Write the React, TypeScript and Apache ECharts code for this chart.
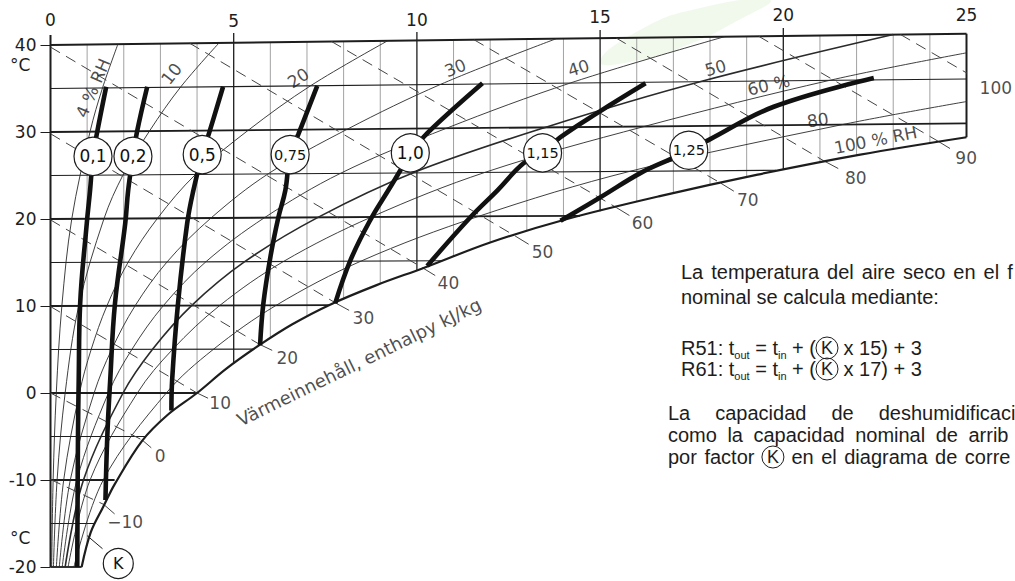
import React, { useEffect, useRef } from "react";
import * as echarts from "echarts";

// ---------------- data ----------------
const X_TICKS = [0, 5, 10, 15, 20, 25];
const Y_TICKS = [-20, -10, 0, 10, 20, 30, 40];

// chart outline (x: g/kg, y: °C)
const TOP_BORDER = [[0, 40], [25, 41.3]];
const SATURATION = [
  [0.85, -20], [1.1, -16], [1.45, -13], [1.75, -10.5], [2.5, -5.5], [3.2, -2.5], [4.0, 0],
  [4.8, 2.8], [5.7, 5.5], [6.6, 7.9], [7.6, 10.1], [8.9, 12.4], [10.2, 14.4], [12.0, 17.3],
  [14.1, 20], [16.6, 22.6], [19.3, 25.1], [22.1, 27.4], [25, 29.4],
];

// thin vertical grid lines (moisture content)
const GRID_X = [1, 2, 3, 4, 6, 7, 8, 9, 11, 12, 13, 14, 16, 17, 18, 19, 21, 22, 23, 24];
const GRID_X_BOTTOM = [-17.6, -8.8, -3.4, 0, 6.3, 8.8, 10.8, 12.55, 15.7, 17.3, 18.6, 19.9, 22.0, 23.0, 23.9, 24.8, 26.5, 27.3, 28.0, 28.7];
const GRID_X_TOP = [40.05, 40.1, 40.16, 40.21, 40.31, 40.36, 40.42, 40.47, 40.57, 40.62, 40.68, 40.73, 40.83, 40.88, 40.94, 40.99, 41.09, 41.14, 41.2, 41.25];
// major vertical lines (with tick above the top border)
const MAJOR_X = [0, 5, 10, 15, 20, 25];
const MAJOR_X_BOTTOM = [-20, 3.4, 14.1, 20.9, 25.7, 29.4];
const MAJOR_X_TOP = [41.15, 41.38, 41.5, 41.72, 41.95, 41.3];

// isotherms
const ISO_T = [-20, -15, -10, -5, 0, 5, 10, 15, 20, 25, 30, 35];
const ISO_END = [
  [0.85, -20], [1.2, -15], [1.75, -10], [2.6, -5], [4.0, 0], [5.55, 5.04], [7.6, 10.1],
  [10.7, 15.2], [14.45, 20.37], [19.8, 25.6], [25, 30.98], [25, 36.1],
];

// relative humidity curves
const RH_04 = [[0.032, -20], [0.072, -10], [0.158, 0], [0.31, 10], [0.58, 20], [1.08, 30.04], [1.42, 35.07], [1.84, 40.1]];
const RH_10 = [[0.08, -20], [0.18, -10], [0.4, 0], [0.77, 10], [1.46, 20.04], [1.98, 25.06], [2.7, 30.1], [3.55, 35.16], [4.6, 40.24]];
const RH_20 = [[0.16, -20], [0.36, -10], [0.79, 0], [1.11, 5], [1.54, 10.02], [2.12, 15.04], [2.92, 20.08], [3.96, 25.13], [5.4, 30.21], [7.1, 35.32], [9.2, 40.48]];
const RH_30 = [[0.24, -20], [0.54, -10], [1.19, 0], [1.67, 5], [2.31, 10.03], [3.18, 15.06], [4.38, 20.11], [5.94, 25.19], [8.1, 30.32], [10.65, 35.48], [13.8, 40.72]];
const RH_40 = [[0.32, -20], [0.72, -10], [1.58, 0], [2.22, 5], [3.08, 10.04], [4.24, 15.08], [5.84, 20.15], [7.92, 25.26], [10.8, 30.42], [14.2, 35.65], [18.4, 40.96]];
const RH_50 = [[0.4, -20], [0.9, -10], [1.98, 0], [2.78, 5], [3.85, 10.05], [5.3, 15.1], [7.3, 20.19], [9.9, 25.32], [13.5, 30.53], [17.75, 35.81], [23, 41.2]];
const RH_60 = [[0.48, -20], [1.08, -10], [2.37, 0], [3.33, 5], [4.62, 10.06], [6.36, 15.12], [8.76, 20.23], [11.88, 25.39], [16.2, 30.63], [21.3, 35.97], [25, 39.1]];
const RH_80 = [[0.64, -20], [1.44, -10], [3.16, 0], [4.44, 5], [6.16, 10.08], [8.48, 15.17], [11.68, 20.3], [15.84, 25.51], [21.6, 30.84], [25, 33.5]];
const RH_CURVES = [RH_04, RH_10, RH_20, RH_30, RH_40, RH_50, RH_60, RH_80];
const RH_LABELS = ["4 % RH", "10", "20", "30", "40", "50", "60 %", "80", "100 % RH"];
const RH_LABEL_AT = [[1.16, 35.06], [3.3, 36.7], [6.76, 36.2], [11.05, 37.36], [14.41, 37.36], [18.15, 37.36], [19.6, 35.4], [20.94, 31.38], [22.52, 29.08]];

// enthalpy lines (kJ/kg)
const H_VALUES = [-10, 0, 10, 20, 30, 40, 50, 60, 70, 80, 90, 100];
const H_START = [[0, -9.94], [0, 0], [0, 9.94], [0, 19.9], [0, 29.8], [0, 39.76], [3.8, 40.2], [7.67, 40.4], [11.56, 40.6], [15.44, 40.8], [19.33, 41.0], [23.2, 41.2]];
const H_END = [[1.45, -12.8], [2.5, -5.4], [4.0, 0], [5.7, 5.6], [7.8, 10.3], [10.15, 14.4], [12.7, 18.0], [15.45, 21.3], [18.3, 24.1], [21.1, 26.7], [24.2, 29.0], [25, 36.8]];
const H_LEADER = [[1.75, -13.9], [2.75, -6.3], [4.3, -0.6], [6.05, 4.9], [8.15, 9.5], [10.5, 13.5], [13.05, 17.1], [15.8, 20.4], [18.65, 23.2], [21.5, 25.8], [24.55, 28.1], [25.35, 36.1]];
const H_LABEL_AT = [[2.04, -14.8], [2.99, -7.2], [4.63, -1.15], [6.46, 4.0], [8.54, 8.6], [10.86, 12.6], [13.43, 16.2], [16.16, 19.5], [19.03, 22.2], [21.98, 24.7], [24.99, 27.0], [25.8, 35.1]];
const H_TITLE = "Värmeinnehåll, enthalpy kJ/kg";
const H_TITLE_AT = [8.42, 3.56];

// correction factor K curves
const K_01 = [[0.73, -20], [0.75, -5], [0.77, 1.5], [0.81, 10.3], [0.99, 19.5], [1.08, 23.3], [1.16, 27.2], [1.27, 29.9], [1.52, 35.2]];
const K_02 = [[1.5, -12.3], [1.55, -5], [1.63, 1.5], [1.76, 10.3], [2.04, 19.5], [2.12, 23.3], [2.25, 27.2], [2.36, 30], [2.64, 35.2]];
const K_05 = [[3.3, -2], [3.32, 1.5], [3.48, 10.3], [3.73, 19.5], [3.9, 23.3], [4.14, 27.4], [4.33, 29.9], [4.71, 35.2]];
const K_075 = [[5.72, 5.5], [5.81, 10.3], [6.0, 15.6], [6.22, 20.2], [6.41, 23.3], [6.54, 27.4], [6.76, 29.7], [7.28, 35.3]];
const K_10 = [[7.77, 10.3], [8.19, 15.3], [8.73, 19.9], [9.22, 23.3], [9.55, 25.6], [9.82, 27.6], [10.29, 29.9], [11.79, 35.6]];
const K_115 = [[10.28, 14.6], [11.46, 20.2], [12.2, 23.3], [12.91, 26.4], [13.43, 27.6], [13.92, 29.4], [14.93, 32.2], [16.24, 35.6]];
const K_125 = [[13.92, 19.8], [15.01, 22.5], [16.11, 25.3], [16.98, 27], [17.42, 27.9], [17.97, 29.1], [19.74, 32.9], [22.47, 36.2]];
const K_CURVES = [K_01, K_02, K_05, K_075, K_10, K_115, K_125];
const K_NAMES = ["0,1", "0,2", "0,5", "0,75", "1,0", "1,15", "1,25"];
const K_CIRCLE_AT = [[1.16, 27.2], [2.25, 27.2], [4.14, 27.4], [6.54, 27.4], [9.82, 27.6], [13.43, 27.6], [17.42, 27.9]];
const K_MARK_AT = [1.85, -19.6];
const K_MARK_LEADER = [[1.42, -17.9], [1.0, -16.4]];

// notes
const NOTE_1 = ["La", "temperatura", "del", "aire", "seco", "en", "el", "f"];
const NOTE_2 = "nominal se calcula mediante:";
const NOTE_R51 = "R51: t{s|out} = t{s|in} + ({k|K} x 15) + 3";
const NOTE_R61 = "R61: t{s|out} = t{s|in} + ({k|K} x 17) + 3";
const NOTE_3 = ["La", "capacidad", "de", "deshumidificaci"];
const NOTE_4 = ["como", "la", "capacidad", "nominal", "de", "arrib"];
const NOTE_5 = ["por", "factor", "{k|K}", "en", "el", "diagrama", "de", "corre"];

// ---------------- styles ----------------
const INK = "#1d1d1d";
const NUM_FONT = '"DejaVu Sans", "Liberation Sans", sans-serif';
const TXT_FONT = '"Liberation Sans", Arial, sans-serif';
const X_LABEL_LIFT = [1, 0, 1, 4, 6, 6];
const RH_LABEL_ROT = [67, 52, 33, 22, 17, 15, 13, 9, 11];

function buildOption() {
  const series: any[] = [];
  const addLine = (data: number[][], width: number, color = INK, type: any = "solid", z = 2, smooth: any = false) => {
    series.push({
      type: "line", data, symbol: "none", showSymbol: false, silent: true, clip: false, z, smooth,
      lineStyle: { width, color, type, cap: "butt" }, emphasis: { disabled: true },
    });
  };

  GRID_X.forEach((x, i) => addLine([[x, GRID_X_BOTTOM[i]], [x, GRID_X_TOP[i]]], 0.8, "#8a8a8a"));
  MAJOR_X.forEach((x, i) => addLine([[x, MAJOR_X_BOTTOM[i]], [x, MAJOR_X_TOP[i]]], x === 0 || x === 25 ? 2 : 1.3));
  ISO_T.forEach((t, i) => addLine([[0, t], ISO_END[i]], t % 10 === 0 ? 1.8 : 1.1));
  addLine(TOP_BORDER, 2);
  RH_CURVES.forEach((c, i) => addLine(c, i === 5 ? 1.6 : 0.9, "#2a2a2a", "solid", 2, 0.35));
  H_VALUES.forEach((h, i) => {
    addLine([H_START[i], H_END[i]], 1, "#444", [11, 7]);
    addLine([H_END[i], H_LEADER[i]], 1, "#444");
  });
  addLine(SATURATION, 2.2, INK, "solid", 3, 0.35);
  K_CURVES.forEach((c) => addLine(c, 4.6, "#111", "solid", 4, 0.4));
  addLine(K_MARK_LEADER, 1);

  // K circles
  series.push({
    type: "scatter", silent: true, clip: false, z: 6, symbol: "circle", symbolSize: 38,
    itemStyle: { color: "#fff", borderColor: INK, borderWidth: 1.2, opacity: 1 },
    label: { show: true, position: "inside", color: "#111", fontFamily: NUM_FONT, fontSize: 17 },
    data: K_NAMES.map((n, i) => ({
      value: K_CIRCLE_AT[i], name: n,
      label: { formatter: n, fontSize: n.length > 3 ? 14.5 : 17 },
    })).concat([{
      value: K_MARK_AT, name: "K", symbolSize: 30,
      label: { formatter: "K", fontSize: 16 },
    } as any]),
  });

  // text labels in data space
  const texts: any[] = [];
  RH_LABELS.forEach((t, i) => texts.push({ value: RH_LABEL_AT[i], label: { formatter: t, rotate: RH_LABEL_ROT[i] } }));
  H_VALUES.forEach((h, i) => texts.push({ value: H_LABEL_AT[i], label: { formatter: h < 0 ? "\u2212" + Math.abs(h) : String(h) } }));
  texts.push({ value: H_TITLE_AT, label: { formatter: H_TITLE, rotate: 26, fontSize: 18 } });
  series.push({
    type: "scatter", silent: true, clip: false, z: 7, symbolSize: 1,
    itemStyle: { color: "rgba(0,0,0,0)" },
    label: { show: true, position: "inside", color: INK, fontFamily: NUM_FONT, fontSize: 17 },
    data: texts,
  });

  const xRich: any = {};
  X_TICKS.forEach((v, i) => {
    xRich["l" + v] = { fontSize: 17, fontFamily: NUM_FONT, color: INK, padding: [0, 0, X_LABEL_LIFT[i], 0] };
  });

  const txt = { fontSize: 20, fontFamily: TXT_FONT, fill: INK };
  const rich = {
    s: { fontSize: 11, fontFamily: TXT_FONT, color: INK, verticalAlign: "bottom" },
    k: { fontSize: 18, fontFamily: TXT_FONT, color: INK, borderColor: INK, borderWidth: 1, borderRadius: 11, width: 16, height: 16, padding: [3, 3, 3, 3], align: "center" },
    sp: { width: 8 },
    sp2: { width: 25 },
    sp4: { width: 10.5 },
    sp5: { width: 7.5 },
  };
  const graphic: any[] = [
    {
      type: "polygon", silent: true, z: -10,
      shape: { points: [[600, 62], [640, 30], [700, 8], [770, 0], [735, 22], [690, 44], [640, 60]], smooth: 0.5 },
      style: { fill: "rgba(150, 205, 110, 0.13)" },
    },
    { type: "text", x: 10, y: 65, style: { text: "°C", fontSize: 17, fontFamily: NUM_FONT, fill: INK, verticalAlign: "middle" } },
    { type: "text", x: 10, y: 538, style: { text: "°C", fontSize: 17, fontFamily: NUM_FONT, fill: INK, verticalAlign: "middle" } },
    { type: "text", x: 681, y: 272, style: { ...txt, text: NOTE_1.join("{sp| }"), rich, verticalAlign: "middle" } },
    { type: "text", x: 681, y: 297, style: { ...txt, text: NOTE_2, verticalAlign: "middle" } },
    { type: "text", x: 681, y: 348, style: { ...txt, text: NOTE_R51, rich, lineHeight: 24, verticalAlign: "middle" } },
    { type: "text", x: 681, y: 369, style: { ...txt, text: NOTE_R61, rich, lineHeight: 24, verticalAlign: "middle" } },
    { type: "text", x: 668, y: 413, style: { ...txt, text: NOTE_3.join("{sp2| }"), rich, verticalAlign: "middle" } },
    { type: "text", x: 668, y: 435, style: { ...txt, text: NOTE_4.join("{sp4| }"), rich, verticalAlign: "middle" } },
    { type: "text", x: 668, y: 457, style: { ...txt, text: NOTE_5.join("{sp5| }"), rich, verticalAlign: "middle" } },
  ];

  return {
    animation: false,
    backgroundColor: "#ffffff",
    grid: { left: 50.5, right: 48.5, top: 27.6, bottom: 14, containLabel: false },
    xAxis: {
      type: "value", min: 0, max: 25, interval: 5, position: "top",
      axisLine: { show: false }, axisTick: { show: false }, splitLine: { show: false },
      axisLabel: { margin: -2, formatter: (v: number) => `{l${v}|${v}}`, rich: xRich, fontSize: 17, fontFamily: NUM_FONT, color: INK },
    },
    yAxis: {
      type: "value", min: -20, max: 42, interval: 10,
      axisLine: { show: false }, splitLine: { show: false },
      axisTick: { show: true, length: 10, customValues: Y_TICKS, lineStyle: { color: INK, width: 1 } },
      axisLabel: { margin: 14, customValues: Y_TICKS, fontSize: 17, fontFamily: NUM_FONT, color: INK },
    },
    series,
    graphic,
  };
}

export default function App() {
  const ref = useRef<HTMLDivElement>(null);
  useEffect(() => {
    const chart = echarts.init(ref.current as HTMLDivElement, null, { renderer: "svg" });
    chart.setOption(buildOption() as any);
    return () => chart.dispose();
  }, []);
  return (
    <div
      ref={ref}
      style={{ position: "fixed", left: 0, top: 0, width: 1015, height: 581, background: "#fff" }}
    />
  );
}
